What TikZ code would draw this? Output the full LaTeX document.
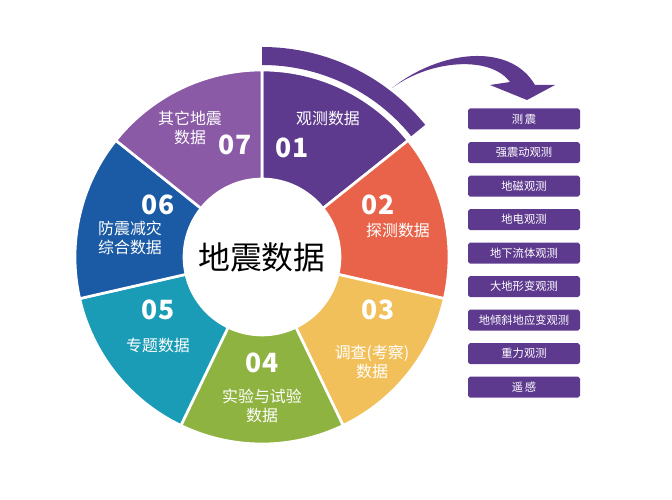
\documentclass[tikz,border=0pt]{standalone}
\usepackage{fontspec}
\setmainfont{Noto Sans CJK SC}
\usetikzlibrary{positioning, calc}
\definecolor{segone}{HTML}{5E3A8F}
\definecolor{segtwo}{HTML}{E9634A}
\definecolor{segthree}{HTML}{F2C05A}
\definecolor{segfour}{HTML}{8FB340}
\definecolor{segfive}{HTML}{1A9CB6}
\definecolor{segsix}{HTML}{1B5AA5}
\definecolor{segseven}{HTML}{8A5AA6}

\begin{document}
\begin{tikzpicture}[x=0.0265cm, y=0.0265cm,
    seglabel/.style={text=white, font=\fontsize{12}{14}\selectfont, align=center, inner sep=0pt},
    segnum/.style={text=white, font=\fontsize{20}{22}\selectfont\bfseries, inner sep=0pt},
    itembox/.style={fill=segone, text=white, rounded corners=1.5pt,
        minimum width=112*0.0265cm, minimum height=21*0.0265cm,
        font=\fontsize{8.5}{10}\selectfont, inner sep=0pt}]
    \useasboundingbox (0,0) rectangle (672,500);
    \coordinate (c) at (262,243);

    % ring segments
    \foreach \col [count=\i] in {segone,segtwo,segthree,segfour,segfive,segsix,segseven} {
        \pgfmathsetmacro{\aone}{90-51.4286*(\i-1)}
        \pgfmathsetmacro{\atwo}{90-51.4286*\i}
        \fill[\col, draw=white, line width=2pt]
            ($(c)+(\aone:187)$) arc[start angle=\aone, end angle=\atwo, radius=187]
            -- ($(c)+(\atwo:78)$) arc[start angle=\atwo, end angle=\aone, radius=78] -- cycle;
    }
    \fill[white] (c) circle[radius=78];
    \node[font=\fontsize{24}{26}\selectfont] (title) at (c) {地震数据};

    % outer band and arrow
    \fill[segone] ($(c)+(90:192)$) arc[start angle=90, end angle=39, radius=192]
        -- ($(c)+(39:210)$) arc[start angle=39, end angle=90, radius=210] -- cycle;
    \fill[segone] (392,412) .. controls (430,440) and (490,445) .. (510,418)
        -- (490,415) -- (527,400) -- (555,415) -- (535,415)
        .. controls (510,458) and (440,450) .. (392,412) -- cycle;

    % segment texts
    \node[seglabel] (l1) at (328,382) {观测数据};
    \node[segnum] (n1) at (292,352) {01};
    \node[segnum] (n2) at (378,295) {02};
    \node[seglabel] (l2) at (398,270) {探测数据};
    \node[segnum] (n3) at (378,190) {03};
    \node[seglabel] (l3) at (372,138) {调查(考察)\\数据};
    \node[segnum] (n4) at (262,137) {04};
    \node[seglabel] (l4) at (262,94) {实验与试验\\数据};
    \node[segnum] (n5) at (158,190) {05};
    \node[seglabel] (l5) at (158,155) {专题数据};
    \node[segnum] (n6) at (158,295) {06};
    \node[seglabel] (l6) at (130,262) {防震减灾\\综合数据};
    \node[seglabel] (l7) at (190,372) {其它地震\\数据};
    \node[segnum] (n7) at (235,355) {07};

    % observation list
    \node[itembox] (b1) at (524,381) {测\,震};
    \node[itembox, below=12*0.0265cm of b1] (b2) {强震动观测};
    \node[itembox, below=12*0.0265cm of b2] (b3) {地磁观测};
    \node[itembox, below=12*0.0265cm of b3] (b4) {地电观测};
    \node[itembox, below=12*0.0265cm of b4] (b5) {地下流体观测};
    \node[itembox, below=12*0.0265cm of b5] (b6) {大地形变观测};
    \node[itembox, below=12*0.0265cm of b6] (b7) {地倾斜地应变观测};
    \node[itembox, below=12*0.0265cm of b7] (b8) {重力观测};
    \node[itembox, below=12*0.0265cm of b8] (b9) {遥\,感};
\end{tikzpicture}
\end{document}
